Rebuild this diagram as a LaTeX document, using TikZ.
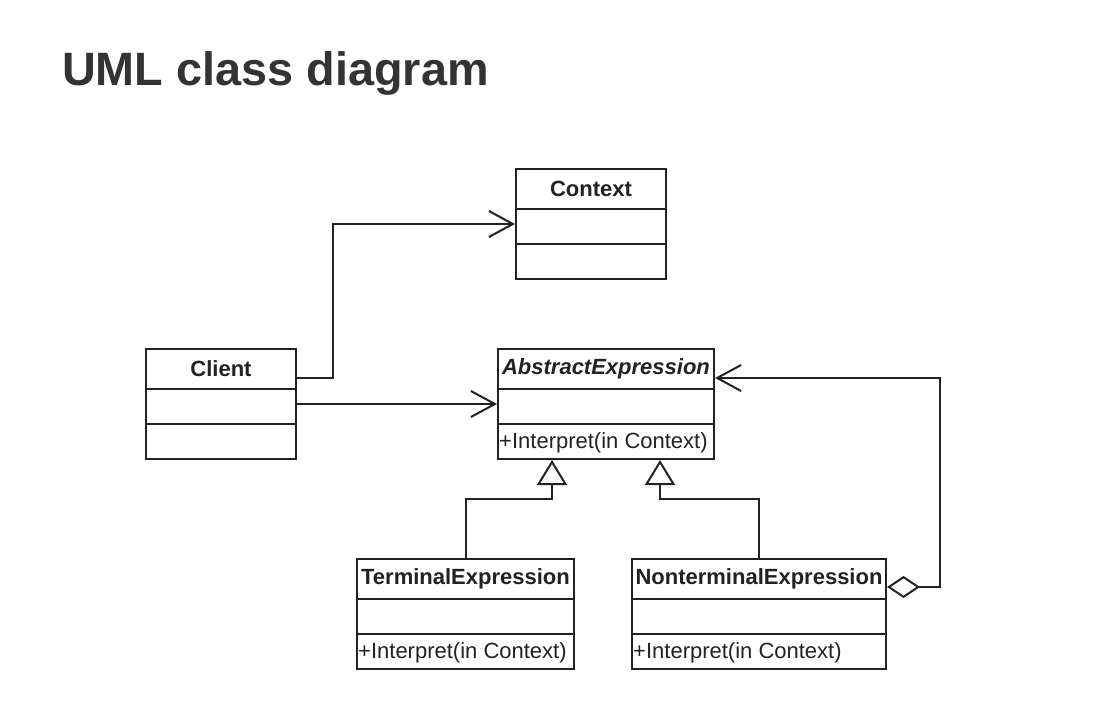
\documentclass[tikz,border=0pt]{standalone}
\usepackage{fontspec}
\setmainfont{Liberation Sans}
\usetikzlibrary{arrows.meta,calc}
\definecolor{ink}{HTML}{222222}
\definecolor{titlecol}{HTML}{333333}
\begin{document}
\begin{tikzpicture}[x=1pt,y=-1pt,
  cls/.style={draw=ink, line width=2pt, minimum width=#1, minimum height=110pt, inner sep=0pt, anchor=north west},
  cname/.style={font=\fontsize{22}{24}\selectfont\bfseries, text=ink, inner sep=0pt},
  meth/.style={font=\fontsize{22}{24}\selectfont, text=ink, inner sep=0pt, anchor=west},
  sep/.style={draw=ink, line width=2pt},
  conn/.style={draw=ink, line width=2pt},
  assoc/.style={conn, -{Straight Barb[length=24pt,width=26pt]}},
  gen/.style={conn, -{Triangle[open,length=25pt,width=30pt,fill=white]}},
  agg/.style={conn, {Diamond[open,length=33pt,width=22pt,fill=white]}-{Straight Barb[length=24pt,width=26pt]}},
]
\fill[white] (0,0) rectangle (1102,712);
\useasboundingbox (0,0) rectangle (1102,712);

\node[anchor=base west, font=\fontsize{46.8}{56}\selectfont\bfseries, text=titlecol, inner sep=0pt] (title) at (62,85) {UML class diagram};

% classes
\node[cls=150pt] (ctx) at (515,168) {};
\node[cls=150pt] (client) at (145,348) {};
\node[cls=216pt] (ae) at (497,348) {};
\node[cls=217pt] (term) at (356,558) {};
\node[cls=254pt] (nt) at (631,558) {};

\foreach \c in {ctx,client,ae,term,nt}{
  \draw[sep] ($(\c.north west)+(0,41)$) -- ($(\c.north east)+(0,41)$);
  \draw[sep] ($(\c.north west)+(0,76)$) -- ($(\c.north east)+(0,76)$);
}

\node[cname] (ctxn) at ($(ctx.north)+(0,20.5)$) {Context};
\node[cname] (clientn) at ($(client.north)+(0,20.5)$) {Client};
\node[cname, font=\fontsize{22}{24}\selectfont\bfseries\itshape] (aen) at ($(ae.north)+(0,20.5)$) {AbstractExpression};
\node[cname] (termn) at ($(term.north)+(0,20.5)$) {TerminalExpression};
\node[cname] (ntn) at ($(nt.north)+(0,20.5)$) {NonterminalExpression};

\node[meth] (aem) at ($(ae.south west)+(2,-17)$) {+Interpret(in Context)};
\node[meth] (termm) at ($(term.south west)+(2,-17)$) {+Interpret(in Context)};
\node[meth] (ntm) at ($(nt.south west)+(2,-17)$) {+Interpret(in Context)};

% connectors
\draw[assoc] ([yshift=26pt]client.east) -| ($(ctx.west)+(-182,0)$) -- (ctx.west);
\draw[assoc] (client.east) -- (ae.west);
\draw[gen] (term.north) |- ($(ae.south)+(-54,39)$) -- ($(ae.south)+(-54,0)$);
\draw[gen] (nt.north) |- ($(ae.south)+(54,39)$) -- ($(ae.south)+(54,0)$);
\draw[agg] ([yshift=27pt]nt.east) -| ($(ae.east)+(225,-26)$) -- ([yshift=26pt]ae.east);
\end{tikzpicture}
\end{document}
